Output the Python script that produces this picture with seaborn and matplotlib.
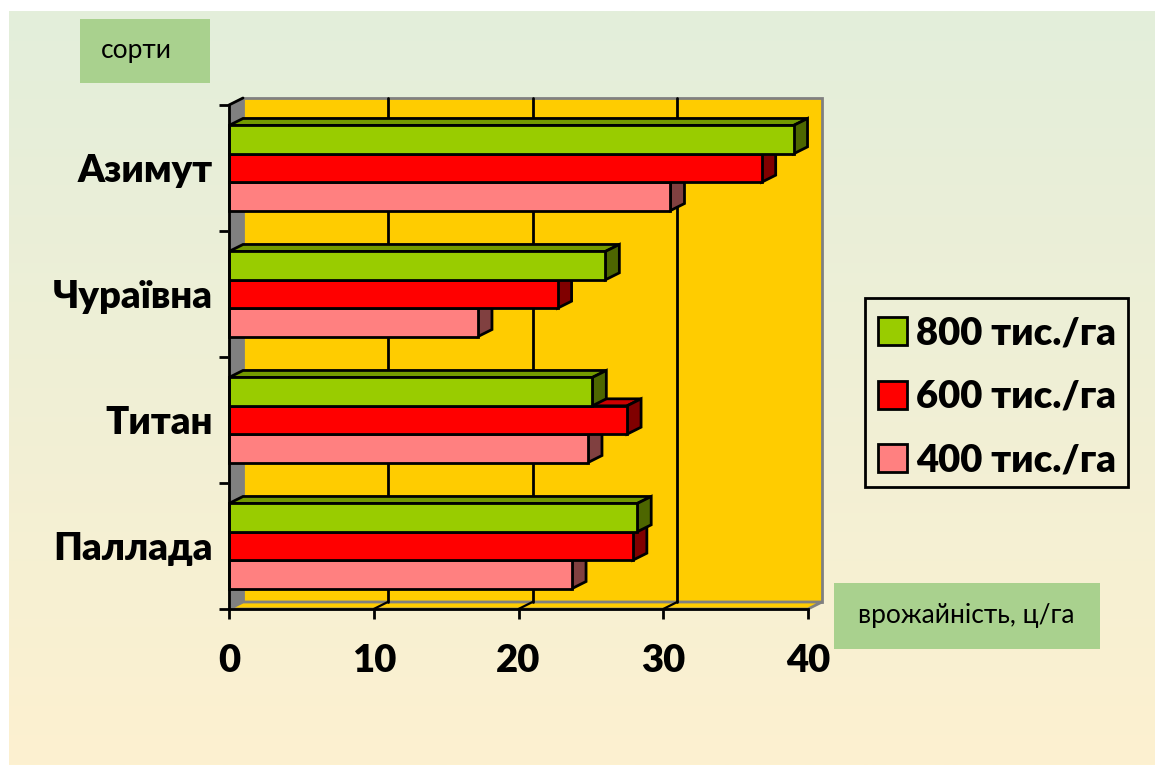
import numpy as np
import pandas as pd
import matplotlib
matplotlib.use("Agg")
import matplotlib.pyplot as plt
from matplotlib.patches import Polygon, Rectangle, Patch
from matplotlib.colors import to_rgb
import seaborn as sns

# Yield by variety and sowing density
varieties = ["Азимут", "Чураївна", "Титан", "Паллада"]
density_labels = ["800 тис./га", "600 тис./га", "400 тис./га"]
yield_800 = [39.0, 26.0, 25.1, 28.2]
yield_600 = [36.8, 22.7, 27.5, 27.9]
yield_400 = [30.5, 17.2, 24.8, 23.7]
x_ticks = [0, 10, 20, 30, 40]
x_axis_title = "врожайність, ц/га"
y_axis_title = "сорти"

front_colors = ["#99CC00", "#FF0000", "#FF8080"]
top_colors = ["#739900", "#CC0000", "#BF6060"]
side_colors = ["#4D6600", "#800000", "#804040"]
WALL = "#FFCC00"
GRAY = "#808080"
BOX = "#A9D18E"
INK = "#000000"
FONT = ["Lato", "Noto Sans"]
HEAVY = 800
LABEL_SIZE = 27.5

W, H = 1155, 765
sns.set_style("white")
plt.rcParams["font.family"] = FONT
plt.rcParams["text.color"] = INK

records = pd.DataFrame({
    "variety": varieties * 3,
    "density": np.repeat(density_labels, len(varieties)),
    "yield": yield_800 + yield_600 + yield_400,
})

fig = plt.figure(figsize=(W / 100, H / 100), dpi=100, facecolor="white")
lw = 2.0

# Slide-like backdrop working in pixel coordinates
bg = fig.add_axes([0, 0, 1, 1], zorder=0)
bg.axis("off")
top_rgb, bottom_rgb = np.array(to_rgb("#E3EEDB")), np.array(to_rgb("#FDF1D0"))
ramp = np.linspace(0, 1, 256)[:, None, None]
bg.imshow(top_rgb * (1 - ramp) + bottom_rgb * ramp, extent=[9, W, H, 11],
          aspect="auto", zorder=0)
bg.set_xlim(0, W)
bg.set_ylim(H, 0)

for (x0, y0, x1, y1), label, cx in [((80, 19, 210, 83), y_axis_title, 136),
                                    ((834, 583, 1100, 649), x_axis_title, 966)]:
    bg.add_patch(Rectangle((x0, y0), x1 - x0, y1 - y0, fc=BOX, ec="none", zorder=1))
    bg.text(cx, (y0 + y1) / 2 - 1, label, ha="center", va="center", fontsize=19,
            color=INK, zorder=2)

# Frame around the legend
bg.add_patch(Rectangle((865, 298), 263, 189, fc="none", ec=INK, lw=lw, zorder=1))

# Chart front plane
L, R, T, B = 229, 808, 105, 609
ax = fig.add_axes([L / W, 1 - B / H, (R - L) / W, (B - T) / H], zorder=1)
ax.patch.set_visible(False)
sns.barplot(data=records, y="variety", x="yield", hue="density", order=varieties,
            hue_order=density_labels, palette=front_colors, width=0.675, dodge=True,
            orient="h", legend=False, ax=ax, saturation=1, gap=0)
ax.set_xlim(0, 40)
ax.set_ylim(3.5, -0.5)
ax.set_xlabel("")
ax.set_ylabel("")

# Depth of the extruded look, in data units
DX = 14.0 / ((R - L) / 40)
DY = 7.0 / ((B - T) / 4)

floor, ceil = 3.5, -0.5


def poly(points, fc, ec, z, width=lw):
    ax.add_patch(Polygon(points, closed=True, fc=fc, ec=ec, lw=width, zorder=z,
                         clip_on=False, joinstyle="miter"))


# Back wall, side wall and floor
poly([(DX, ceil - DY), (40 + DX, ceil - DY), (40 + DX, floor - DY), (DX, floor - DY)],
     WALL, GRAY, 0.5)
poly([(0, floor), (40, floor), (40 + DX, floor - DY), (DX, floor - DY)], WALL, GRAY, 0.6)
poly([(0, ceil), (DX, ceil - DY), (DX, floor - DY), (0, floor)], GRAY, GRAY, 0.7, lw * 0.5)
ax.plot([0, DX], [ceil, ceil - DY], color=INK, lw=lw, zorder=0.8, clip_on=False)

# Gridlines run on the back wall and step down across the floor
for value in x_ticks[1:-1]:
    ax.plot([value + DX, value + DX], [ceil - DY, floor - DY], color=INK, lw=lw,
            zorder=0.9, clip_on=False)
    ax.plot([value, value + DX], [floor, floor - DY], color=INK, lw=lw * 0.8,
            zorder=0.9, clip_on=False)

# Give each seaborn bar a top and side face; lower bars are painted first
for series, bars in enumerate(ax.containers):
    for bar in bars:
        x0, y0 = bar.get_xy()
        length, height = bar.get_width(), bar.get_height()
        y_top, y_bot = y0, y0 + height
        z = 50 - 10 * (y0 + height / 2)
        poly([(0, y_top), (length, y_top), (length + DX, y_top - DY), (DX, y_top - DY)],
             top_colors[series], INK, z)
        poly([(length, y_top), (length + DX, y_top - DY), (length + DX, y_bot - DY),
              (length, y_bot)], side_colors[series], INK, z)
        bar.set_edgecolor(INK)
        bar.set_linewidth(lw)
        bar.set_zorder(z + 0.5)
        bar.set_clip_on(False)

# Axes furniture
sns.despine(ax=ax, top=True, right=True)
for side in ("left", "bottom"):
    ax.spines[side].set_linewidth(lw)
    ax.spines[side].set_color(INK)
    ax.spines[side].set_zorder(60)

ax.set_xticks(x_ticks)
ax.set_xticklabels([str(v) for v in x_ticks], fontsize=LABEL_SIZE, fontweight=HEAVY, color=INK)
ax.set_yticks(np.arange(-0.5, 4), labels=[""] * 5)
ax.set_yticks(range(len(varieties)), labels=varieties, minor=True, fontsize=LABEL_SIZE,
              fontweight=HEAVY, color=INK)
ax.tick_params(axis="both", which="major", direction="out", length=7, width=lw,
               color=INK, bottom=True, left=True)
ax.tick_params(axis="x", which="major", pad=18)
ax.tick_params(axis="y", which="minor", length=0, pad=11.5)

# Legend entries inside the frame
handles = [Patch(fc=c, ec=INK, lw=lw, label=t) for c, t in zip(front_colors, density_labels)]
legend = fig.legend(handles=handles, loc="center",
                    bbox_to_anchor=(997 / W, 1 - 397 / H),
                    prop={"family": FONT, "weight": HEAVY, "size": LABEL_SIZE},
                    frameon=False, handlelength=0.75, handleheight=0.75,
                    handletextpad=0.24, labelspacing=0.78, borderpad=0.34,
                    borderaxespad=0)
legend.set_zorder(5)

fig.savefig("out.png", dpi=100)
